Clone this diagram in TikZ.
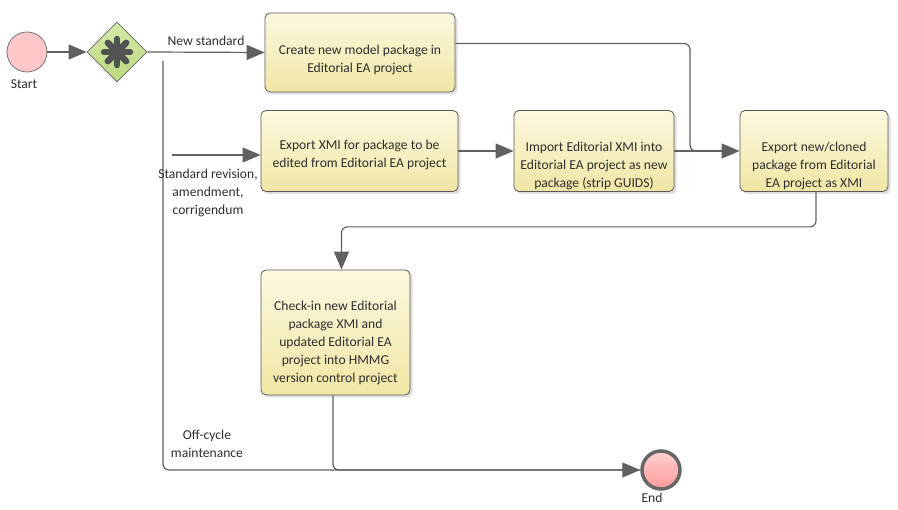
\documentclass[tikz,border=0pt]{standalone}
\usepackage{fontspec}
\setmainfont{Carlito}
\usetikzlibrary{arrows.meta,shapes.geometric,shadows}
\colorlet{line gray}{black!62}
\definecolor{task top}{RGB}{252,249,224}
\definecolor{task bottom}{RGB}{241,230,165}
\definecolor{gate top}{RGB}{214,234,172}
\definecolor{gate bottom}{RGB}{186,216,124}
\colorlet{event fill}{red!22}
\tikzset{task/.style={rectangle, rounded corners=5pt, draw=black!65, thick,
        top color=task top, bottom color=task bottom,
        drop shadow={shadow xshift=2.5pt, shadow yshift=-2.5pt, opacity=0.25}},
    tasktext/.style={anchor=north, align=center, inner sep=0pt, text=black!82,
        font=\fontsize{13.6}{18}\selectfont},
    caption/.style={align=center, inner sep=0pt, text=black!82,
        font=\fontsize{13.6}{18}\selectfont},
    flow/.style={draw=line gray, line width=1.2pt, rounded corners=6pt,
        -{Triangle[length=18pt,width=15pt]}},
    plain/.style={draw=line gray, line width=1.2pt, rounded corners=6pt}}

\begin{document}
\begin{tikzpicture}[x=1pt,y=-1pt]
    \useasboundingbox (0,0) rectangle (898,510);
    % events and gateway
    \node[circle, minimum size=40pt, fill=event fill, draw=black!55, thick] (start) at (27,52) {};
    \node[caption] (starttxt) at (24,84) {Start};
    \node[circle, minimum size=38pt, top color=red!18, bottom color=red!40, draw=black!60, line width=3.5pt] (end) at (661,470) {};
    \node[caption] (endtxt) at (652,498) {End};
    \node[diamond, aspect=1, minimum size=60pt, inner sep=0pt, top color=gate top,
        bottom color=gate bottom, draw=black!60, thick] (gw) at (117,52) {};
    \foreach \a in {0,45,...,315}
        \draw[black!68, line width=6.5pt, line cap=round] (gw.center) -- ++(\a:13);
    % tasks
    \node[task, minimum width=190pt, minimum height=79pt] (create) at (360,52.5) {};
    \node[tasktext] (createtxt) at ([yshift=-32pt]create.north) {Create new model package in\\Editorial EA project};
    \node[task, minimum width=197pt, minimum height=81pt] (export) at (359.5,151) {};
    \node[tasktext] (exporttxt) at ([yshift=-30pt]export.north) {Export XMI for package to be\\edited from Editorial EA project};
    \node[task, minimum width=160pt, minimum height=81pt] (import) at (594,151) {};
    \node[tasktext] (importtxt) at ([yshift=-32pt]import.north) {Import Editorial XMI into\\Editorial EA project as new\\package (strip GUIDS)};
    \node[task, minimum width=148pt, minimum height=81pt] (exportnew) at (814,151) {};
    \node[tasktext] (exportnewtxt) at ([yshift=-32pt]exportnew.north) {Export new/cloned\\package from Editorial\\EA project as XMI};
    \node[task, minimum width=149pt, minimum height=125pt] (checkin) at (335.5,332.5) {};
    \node[tasktext] (checkintxt) at ([yshift=-31pt]checkin.north) {Check-in new Editorial\\package XMI and\\updated Editorial EA\\project into HMMG\\version control project};
    % connectors
    \coordinate (split) at (163,61);
    \coordinate (rev) at (172,155);
    \coordinate (merge) at (690,151);
    \draw[flow] (start) -- (gw.west);
    \draw[flow] (gw.east) -- node[caption, above=6pt] (newtxt) {New standard} (create.west);
    \draw[flow] (rev) -- (rev -| export.west);
    \draw[flow] (export.east) -- (import.west);
    \draw[flow] (import.east) -- (exportnew.west);
    \draw[plain] ([yshift=9pt]create.east) -| (merge) -- ++(30,0);
    \draw[flow] ([xshift=2pt]exportnew.south) -- ++(0,35) -| ([xshift=6pt]checkin.north);
    \draw[flow] (split) |- (end.west);
    \draw[plain] ([xshift=-2.5pt]checkin.south) |- (end.west);
    % branch labels
    \node[caption] (revtxt) at (208,193) {Standard revision,\\amendment,\\corrigendum};
    \node[caption] (offtxt) at (207,444) {Off-cycle\\maintenance};
\end{tikzpicture}
\end{document}
